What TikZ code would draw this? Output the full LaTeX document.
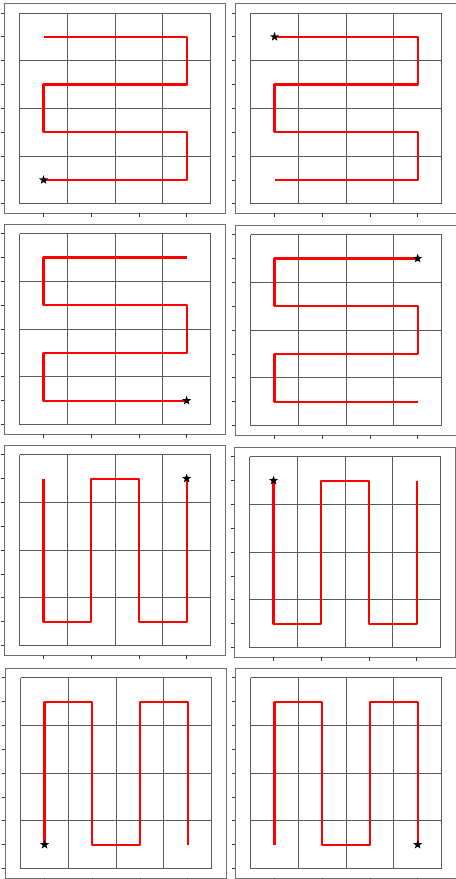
\documentclass[tikz,border=0pt]{standalone}
\usepackage{tikz}
\usetikzlibrary{shapes.geometric}
\definecolor{framegray}{HTML}{6E6E6E}
\definecolor{gridgray}{HTML}{5A5A5A}
\definecolor{routered}{HTML}{FF0000}

% one panel: #1 frame corner, #2 route through cell centres, #3 start cell
\newcommand{\serpentpanel}[3]{%
  \begin{scope}[shift={#1}]
    \draw[framebox] (0,0) rectangle (220.7,210);
    \foreach \k in {0,...,8} \draw[tickmark] (0,9.7+\k*23.85) -- ++(-3.5,0);
    \foreach \k in {0,...,3} \draw[tickmark] (39.25+\k*47.7,210) -- ++(0,3.5);
    \begin{scope}[shift={(15.4,9.7)},scale=47.7]
      \foreach \k in {0,...,4} {
        \draw[gridline] (\k,0) -- (\k,4);
        \draw[gridline] (0,\k) -- (4,\k);
      }
      \begin{scope}[shift={(.5,.5)}]
        \draw[route] #2;
        \node[startmark] at #3 {};
      \end{scope}
    \end{scope}
  \end{scope}}

\begin{document}
\begin{tikzpicture}[x=0.02cm,y=-0.02cm,
  framebox/.style={draw=framegray,line width=.55pt},
  tickmark/.style={draw=black!80,line width=.5pt},
  gridline/.style={draw=gridgray,line width=.55pt},
  route/.style={draw=routered,line width=1.2pt,line join=round},
  startmark/.style={star,star points=5,star point ratio=2.4,fill=black,inner sep=0pt,minimum size=.19cm}]
\useasboundingbox[fill=white] (0,0) rectangle (456,879);

% row-wise routes
\serpentpanel{(4.3,3.3)}{(0,0)--(3,0)--(3,1)--(0,1)--(0,2)--(3,2)--(3,3)--(0,3)}{(0,3)}
\serpentpanel{(235.3,3.3)}{(0,0)--(3,0)--(3,1)--(0,1)--(0,2)--(3,2)--(3,3)--(0,3)}{(0,0)}
\serpentpanel{(4.3,224)}{(3,0)--(0,0)--(0,1)--(3,1)--(3,2)--(0,2)--(0,3)--(3,3)}{(3,3)}
\serpentpanel{(235.3,225)}{(3,0)--(0,0)--(0,1)--(3,1)--(3,2)--(0,2)--(0,3)--(3,3)}{(3,0)}

% column-wise routes
\serpentpanel{(4.3,445)}{(0,0)--(0,3)--(1,3)--(1,0)--(2,0)--(2,3)--(3,3)--(3,0)}{(3,0)}
\serpentpanel{(234.3,447)}{(0,0)--(0,3)--(1,3)--(1,0)--(2,0)--(2,3)--(3,3)--(3,0)}{(0,0)}
\serpentpanel{(5.3,668)}{(0,3)--(0,0)--(1,0)--(1,3)--(2,3)--(2,0)--(3,0)--(3,3)}{(0,3)}
\serpentpanel{(235.3,668)}{(0,3)--(0,0)--(1,0)--(1,3)--(2,3)--(2,0)--(3,0)--(3,3)}{(3,3)}
\end{tikzpicture}
\end{document}
